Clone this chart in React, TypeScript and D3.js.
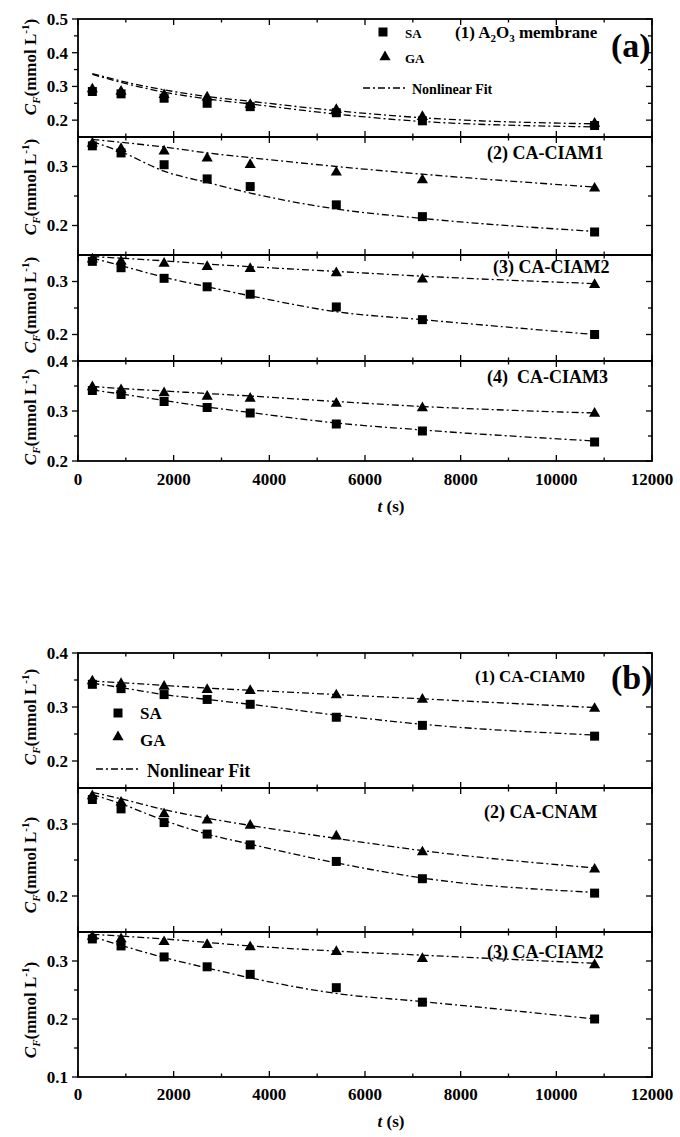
import React from 'react';
import * as d3 from 'd3';

// sampling times (s)
const times = [300, 900, 1800, 2700, 3600, 5400, 7200, 10800];
const xMajor = [0, 2000, 4000, 6000, 8000, 10000, 12000];
const xMinor = [1000, 3000, 5000, 7000, 9000, 11000];

// (a) panel 1: A2O3 membrane
const a1SA = [0.285, 0.278, 0.265, 0.25, 0.24, 0.222, 0.198, 0.184];
const a1GA = [0.292, 0.285, 0.275, 0.268, 0.246, 0.231, 0.21, 0.19];
const a1SAFit = [0.336, 0.312, 0.283, 0.263, 0.248, 0.218, 0.196, 0.18];
const a1GAFit = [0.338, 0.316, 0.29, 0.27, 0.256, 0.228, 0.207, 0.189];
// (a) panel 2: CA-CIAM1
const a2SA = [0.335, 0.323, 0.303, 0.279, 0.266, 0.235, 0.215, 0.189];
const a2GA = [0.339, 0.33, 0.326, 0.314, 0.303, 0.29, 0.277, 0.263];
const a2SAFit = [0.342, 0.325, 0.292, 0.273, 0.255, 0.228, 0.212, 0.19];
const a2GAFit = [0.346, 0.341, 0.333, 0.323, 0.315, 0.3, 0.287, 0.265];
// (a) panel 3: CA-CIAM2
const a3SA = [0.338, 0.326, 0.306, 0.29, 0.276, 0.252, 0.228, 0.2];
const a3GA = [0.342, 0.338, 0.334, 0.328, 0.324, 0.316, 0.304, 0.294];
const a3SAFit = [0.344, 0.33, 0.308, 0.29, 0.273, 0.243, 0.228, 0.2];
const a3GAFit = [0.347, 0.344, 0.339, 0.333, 0.328, 0.319, 0.31, 0.296];
// (a) panel 4: CA-CIAM3
const a4SA = [0.341, 0.333, 0.319, 0.307, 0.296, 0.274, 0.26, 0.238];
const a4GA = [0.348, 0.342, 0.336, 0.329, 0.325, 0.315, 0.306, 0.295];
const a4SAFit = [0.342, 0.334, 0.321, 0.308, 0.297, 0.276, 0.262, 0.24];
const a4GAFit = [0.349, 0.345, 0.34, 0.335, 0.33, 0.319, 0.309, 0.296];
// (b) panel 1: CA-CIAM0
const b1SA = [0.342, 0.334, 0.323, 0.314, 0.305, 0.281, 0.266, 0.246];
const b1GA = [0.348, 0.343, 0.338, 0.332, 0.33, 0.322, 0.314, 0.297];
const b1SAFit = [0.344, 0.336, 0.323, 0.314, 0.305, 0.285, 0.268, 0.248];
const b1GAFit = [0.348, 0.345, 0.34, 0.335, 0.331, 0.323, 0.315, 0.299];
// (b) panel 2: CA-CNAM
const b2SA = [0.334, 0.321, 0.302, 0.286, 0.271, 0.248, 0.224, 0.204];
const b2GA = [0.339, 0.33, 0.314, 0.305, 0.298, 0.283, 0.261, 0.237];
const b2SAFit = [0.341, 0.328, 0.305, 0.286, 0.272, 0.246, 0.225, 0.205];
const b2GAFit = [0.344, 0.335, 0.32, 0.308, 0.298, 0.28, 0.263, 0.239];
// (b) panel 3: CA-CIAM2
const b3SA = [0.338, 0.326, 0.307, 0.29, 0.277, 0.254, 0.229, 0.2];
const b3GA = [0.342, 0.338, 0.333, 0.328, 0.324, 0.316, 0.304, 0.293];
const b3SAFit = [0.342, 0.327, 0.306, 0.288, 0.271, 0.244, 0.23, 0.2];
const b3GAFit = [0.346, 0.343, 0.338, 0.332, 0.326, 0.317, 0.31, 0.296];

const FONT = '"Liberation Serif", "Times New Roman", serif';
const X0 = 78;
const X1 = 652;

const panels = [
  { key: 'a1', top: 19, bottom: 137, domain: [0.15, 0.5], major: [0.5, 0.4, 0.3, 0.2], minor: [0.45, 0.35, 0.25], sa: a1SA, ga: a1GA, saFit: a1SAFit, gaFit: a1GAFit, titleY: 67 },
  { key: 'a2', top: 137, bottom: 255, domain: [0.15, 0.35], major: [0.3, 0.2], minor: [0.25], sa: a2SA, ga: a2GA, saFit: a2SAFit, gaFit: a2GAFit, titleY: 187 },
  { key: 'a3', top: 255, bottom: 361, domain: [0.15, 0.35], major: [0.3, 0.2], minor: [0.25], sa: a3SA, ga: a3GA, saFit: a3SAFit, gaFit: a3GAFit, titleY: 305 },
  { key: 'a4', top: 361, bottom: 461, domain: [0.2, 0.4], major: [0.4, 0.3, 0.2], minor: [0.35, 0.25], sa: a4SA, ga: a4GA, saFit: a4SAFit, gaFit: a4GAFit, titleY: 417 },
  { key: 'b1', top: 653, bottom: 788, domain: [0.15, 0.4], major: [0.4, 0.3, 0.2], minor: [0.35, 0.25], sa: b1SA, ga: b1GA, saFit: b1SAFit, gaFit: b1GAFit, titleY: 717 },
  { key: 'b2', top: 788, bottom: 932, domain: [0.15, 0.35], major: [0.3, 0.2], minor: [0.25], sa: b2SA, ga: b2GA, saFit: b2SAFit, gaFit: b2GAFit, titleY: 865 },
  { key: 'b3', top: 932, bottom: 1077, domain: [0.1, 0.35], major: [0.3, 0.2, 0.1], minor: [0.25, 0.15], sa: b3SA, ga: b3GA, saFit: b3SAFit, gaFit: b3GAFit, titleY: 1010 },
];

const x = d3.scaleLinear().domain([0, 12000]).range([X0, X1]);
const squarePath = d3.symbol(d3.symbolSquare, 81)() as string;
const trianglePath = d3.symbol(d3.symbolTriangle, 54)() as string;

const Panel = ({ p }: { p: any }) => {
  const y = d3.scaleLinear().domain(p.domain).range([p.bottom, p.top]);
  const line = d3
    .line<number>()
    .x((_, i) => x(times[i]))
    .y((d) => y(d))
    .curve(d3.curveMonotoneX);
  const fmt = d3.format('.1f');
  return (
    <g>
      {/* x ticks top and bottom, inward */}
      {xMajor.concat(xMinor).map((t) => {
        const len = xMajor.includes(t) ? 6 : 3.5;
        return (
          <g key={'xt' + t}>
            <line x1={x(t)} x2={x(t)} y1={p.bottom} y2={p.bottom - len} stroke="#000" strokeWidth={1.3} />
            <line x1={x(t)} x2={x(t)} y1={p.top} y2={p.top + len} stroke="#000" strokeWidth={1.3} />
          </g>
        );
      })}
      {/* y ticks: outward on left, inward on right */}
      {p.major.concat(p.minor).map((v: number) => {
        const len = p.major.includes(v) ? 6 : 4;
        return (
          <g key={'yt' + v}>
            <line x1={X0} x2={X0 - len} y1={y(v)} y2={y(v)} stroke="#000" strokeWidth={1.3} />
            <line x1={X1} x2={X1 - len} y1={y(v)} y2={y(v)} stroke="#000" strokeWidth={1.3} />
          </g>
        );
      })}
      {p.major.map((v: number) => (
        <text key={'yl' + v} x={68} y={y(v)} dy="0.35em" textAnchor="end" fontSize={17} fontWeight="bold" fontFamily={FONT}>
          {fmt(v)}
        </text>
      ))}
      <rect x={X0} y={p.top} width={X1 - X0} height={p.bottom - p.top} fill="none" stroke="#000" strokeWidth={1.8} />
      <path d={line(p.saFit) as string} fill="none" stroke="#000" strokeWidth={1.3} strokeDasharray="7,3,2,3" />
      <path d={line(p.gaFit) as string} fill="none" stroke="#000" strokeWidth={1.3} strokeDasharray="7,3,2,3" />
      {p.sa.map((v: number, i: number) => (
        <path key={'s' + i} d={squarePath} transform={`translate(${x(times[i])},${y(v)})`} fill="#000" />
      ))}
      {p.ga.map((v: number, i: number) => (
        <path key={'g' + i} d={trianglePath} transform={`translate(${x(times[i])},${y(v)})`} fill="#000" />
      ))}
      <text transform={`translate(36,${p.titleY}) rotate(-90)`} textAnchor="middle" fontSize={17} fontWeight="bold" fontFamily={FONT}>
        <tspan fontStyle="italic">C</tspan>
        <tspan fontStyle="italic" fontSize={11} dy={4}>F</tspan>
        <tspan dy={-4}>(mmol L</tspan>
        <tspan fontSize={11} dy={-7}>-1</tspan>
        <tspan dy={7}>)</tspan>
      </text>
    </g>
  );
};

const XAxisLabels = ({ base }: { base: number }) => (
  <g fontFamily={FONT} fontWeight="bold">
    {xMajor.map((t) => (
      <text key={t} x={x(t)} y={base} textAnchor="middle" fontSize={17}>
        {t}
      </text>
    ))}
    <text x={391} y={base + 27} textAnchor="middle" fontSize={17}>
      <tspan fontStyle="italic">t</tspan> (s)
    </text>
  </g>
);

const LegendLine = ({ x1, x2, yy }: { x1: number; x2: number; yy: number }) => (
  <line x1={x1} x2={x2} y1={yy} y2={yy} stroke="#000" strokeWidth={1.3} strokeDasharray="7,3,2,3" />
);

export default function App() {
  return (
    <svg width={680} height={1137} style={{ position: 'absolute', left: 0, top: 0, background: '#fff' }}>
      <rect width={680} height={1137} fill="#fff" />
      {panels.map((p) => (
        <Panel key={p.key} p={p} />
      ))}
      <XAxisLabels base={485} />
      <XAxisLabels base={1100} />

      <g fontFamily={FONT} fontWeight="bold">
        {/* (a) labels */}
        <text x={455} y={38} fontSize={17}>
          (1) A<tspan fontSize={11} dy={4}>2</tspan>
          <tspan dy={-4}>O</tspan>
          <tspan fontSize={11} dy={4}>3</tspan>
          <tspan dy={-4}> membrane</tspan>
        </text>
        <text x={611} y={57} fontSize={34}>(a)</text>
        <path d={squarePath} transform="translate(383,32)" fill="#000" />
        <text x={405} y={38} fontSize={13}>SA</text>
        <path d={trianglePath} transform="translate(385,57)" fill="#000" />
        <text x={405} y={63} fontSize={13}>GA</text>
        <LegendLine x1={363} x2={408} yy={88} />
        <text x={412} y={94} fontSize={14}>Nonlinear Fit</text>
        <text x={487} y={159} fontSize={18}>(2) CA-CIAM1</text>
        <text x={493} y={273} fontSize={18}>(3) CA-CIAM2</text>
        <text x={487} y={383} fontSize={18} style={{ whiteSpace: 'pre' }}>(4)  CA-CIAM3</text>

        {/* (b) labels */}
        <text x={475} y={682} fontSize={17}>(1) CA-CIAM0</text>
        <text x={611} y={689} fontSize={34}>(b)</text>
        <path d={squarePath} transform="translate(118,713)" fill="#000" />
        <text x={140} y={719} fontSize={17}>SA</text>
        <path d={trianglePath} transform="translate(118,737)" fill="#000" />
        <text x={140} y={746} fontSize={17}>GA</text>
        <LegendLine x1={96} x2={140} yy={769} />
        <text x={147} y={777} fontSize={18}>Nonlinear Fit</text>
        <text x={484} y={818} fontSize={18}>(2) CA-CNAM</text>
        <text x={487} y={958} fontSize={18}>(3) CA-CIAM2</text>
      </g>
    </svg>
  );
}
